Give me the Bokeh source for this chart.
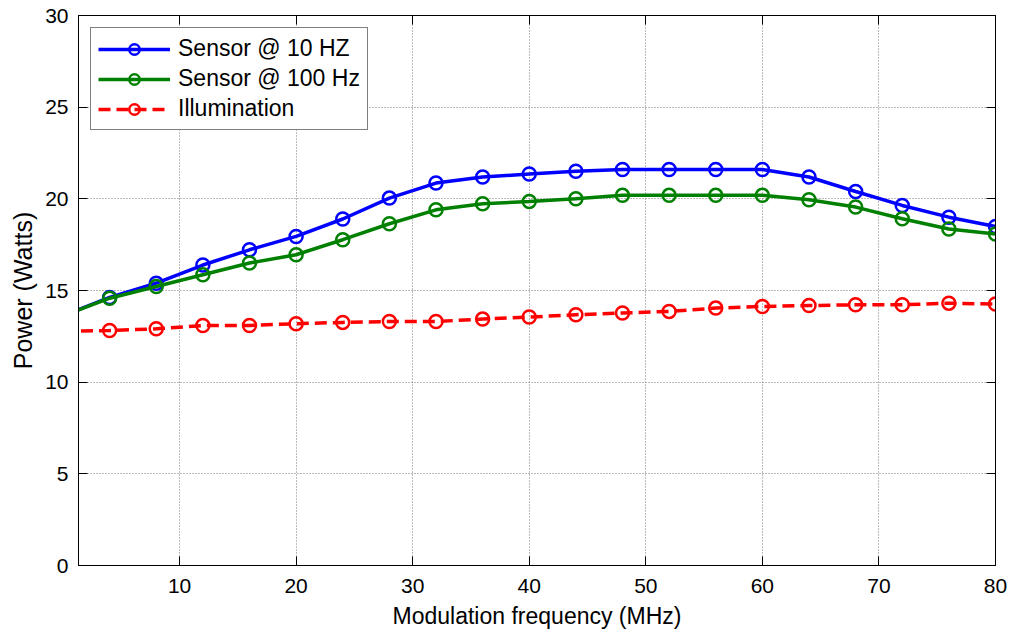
from bokeh.plotting import figure
from bokeh.models import FixedTicker, Legend, LegendItem, Range1d, LinearAxis, CustomJSTickFormatter
from bokeh.embed import file_html
from bokeh.resources import INLINE

# ---- data ----
freq = [0, 4, 8, 12, 16, 20, 24, 28, 32, 36, 40, 44, 48, 52, 56, 60, 64, 68, 72, 76, 80]
sensor_10hz = [13.62, 14.62, 15.40, 16.39, 17.22, 17.95, 18.90, 20.04, 20.86, 21.19, 21.35,
               21.50, 21.60, 21.60, 21.60, 21.60, 21.19, 20.40, 19.64, 19.00, 18.49]
sensor_100hz = [13.62, 14.58, 15.22, 15.86, 16.50, 16.95, 17.77, 18.64, 19.40, 19.73, 19.86,
                20.00, 20.19, 20.19, 20.19, 20.19, 19.95, 19.55, 18.91, 18.35, 18.08]
illumination = [12.78, 12.82, 12.91, 13.09, 13.09, 13.19, 13.26, 13.31, 13.31, 13.44, 13.55,
                13.68, 13.77, 13.86, 14.04, 14.13, 14.18, 14.22, 14.22, 14.31, 14.26]
labels = ["Sensor @ 10 HZ", "Sensor @ 100 Hz", "Illumination"]
colors = ["#0000ff", "#008000", "#ff0000"]
dashes = ["solid", "solid", "12 6"]
x_ticks = [10, 20, 30, 40, 50, 60, 70, 80]
y_ticks = [0, 5, 10, 15, 20, 25, 30]

FONT = "Liberation Sans"

p = figure(width=1011, height=634, output_backend="svg", toolbar_location=None,
           x_range=Range1d(1.33, 80), y_range=Range1d(0, 30),
           min_border_left=78, min_border_right=16, min_border_top=15, min_border_bottom=69,
           background_fill_color="white", border_fill_color="white")
p.outline_line_color = "black"
p.outline_line_width = 1

for ax in (p.xaxis[0], p.yaxis[0]):
    ax.major_label_text_font = FONT
    ax.major_label_text_font_size = "21px"
    ax.major_label_text_color = "black"
    ax.axis_label_text_font = FONT
    ax.axis_label_text_font_style = "normal"
    ax.axis_label_text_color = "black"
    ax.axis_line_color = "black"
    ax.major_tick_line_color = "black"
    ax.major_tick_in = 9
    ax.major_tick_out = 0
    ax.minor_tick_line_color = None

p.xaxis[0].ticker = FixedTicker(ticks=x_ticks)
p.yaxis[0].ticker = FixedTicker(ticks=y_ticks)
p.xaxis[0].axis_label = "Modulation frequency (MHz)"
p.yaxis[0].axis_label = "Power (Watts)"
p.xaxis[0].axis_label_text_font_size = "23px"
p.yaxis[0].axis_label_text_font_size = "25px"
p.xaxis[0].major_label_standoff = 13
p.yaxis[0].major_label_standoff = 10
p.xaxis[0].axis_label_standoff = 7
p.yaxis[0].axis_label_standoff = 5

# inward ticks on the top and right edges of the box (no labels)
blank = CustomJSTickFormatter(code="return '';")
top = LinearAxis(ticker=FixedTicker(ticks=x_ticks), formatter=blank,
                 major_tick_in=9, major_tick_out=0, minor_tick_line_color=None,
                 axis_line_color="black", major_tick_line_color="black",
                 major_label_standoff=0, major_label_text_font_size="21px")
right = LinearAxis(ticker=FixedTicker(ticks=y_ticks), formatter=blank,
                   major_tick_in=9, major_tick_out=0, minor_tick_line_color=None,
                   axis_line_color="black", major_tick_line_color="black",
                   major_label_standoff=0, major_label_text_font_size="21px")
p.add_layout(top, "above")
p.add_layout(right, "right")

for g in (p.xgrid[0], p.ygrid[0]):
    g.grid_line_color = "#777777"
    g.grid_line_dash = "1 2"
    g.grid_line_width = 1
p.xgrid[0].ticker = FixedTicker(ticks=x_ticks)
p.ygrid[0].ticker = FixedTicker(ticks=y_ticks)

items = []
for ys, lab, col, dash in zip([sensor_10hz, sensor_100hz, illumination], labels, colors, dashes):
    ln = p.line(freq, ys, line_color=col, line_width=3.5, line_dash=dash)
    sc = p.scatter(freq[1:], ys[1:], marker="circle", size=13, line_color=col,
                   line_width=2.5, fill_alpha=0)
    items.append(LegendItem(label=lab, renderers=[ln, sc]))

legend = Legend(items=items, location="top_left", margin=12, padding=7,
                glyph_width=72, glyph_height=26, spacing=3, label_standoff=8,
                label_text_font=FONT, label_text_font_size="23px", label_text_color="black",
                label_height=26,
                border_line_color="black", border_line_width=1,
                background_fill_color="white", background_fill_alpha=1.0)
p.add_layout(legend, "center")

open("out.html", "w").write(file_html(p, INLINE))
